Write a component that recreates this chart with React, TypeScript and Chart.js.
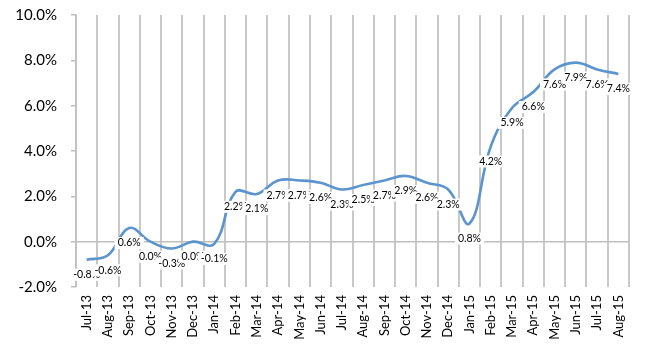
import React, { useEffect, useRef } from 'react';
import { Chart, registerables } from 'chart.js';

Chart.register(...registerables);

const categories = [
  'Jul-13', 'Aug-13', 'Sep-13', 'Oct-13', 'Nov-13', 'Dec-13',
  'Jan-14', 'Feb-14', 'Mar-14', 'Apr-14', 'May-14', 'Jun-14',
  'Jul-14', 'Aug-14', 'Sep-14', 'Oct-14', 'Nov-14', 'Dec-14',
  'Jan-15', 'Feb-15', 'Mar-15', 'Apr-15', 'May-15', 'Jun-15',
  'Jul-15', 'Aug-15',
];

const values = [
  -0.8, -0.6, 0.6, 0.0, -0.3, 0.0,
  -0.1, 2.2, 2.1, 2.7, 2.7, 2.6,
  2.3, 2.5, 2.7, 2.9, 2.6, 2.3,
  0.8, 4.2, 5.9, 6.6, 7.6, 7.9,
  7.6, 7.4,
];

const yMin = -2;
const yMax = 10;
const yStep = 2;

const fmt = (v: number) => `${v.toFixed(1)}%`;

const labelPlugin = {
  id: 'valueLabels',
  afterDatasetsDraw(chart: any) {
    const ctx = chart.ctx;
    const meta = chart.getDatasetMeta(0);
    ctx.save();
    ctx.font = '10.5px Lato';
    ctx.textAlign = 'center';
    ctx.textBaseline = 'middle';
    meta.data.forEach((pt: any, i: number) => {
      const text = fmt(values[i]);
      const w = ctx.measureText(text).width + 6;
      const h = 12;
      const x = pt.x;
      const y = pt.y + 15;
      ctx.fillStyle = '#ffffff';
      ctx.fillRect(x - w / 2, y - h / 2, w, h);
      ctx.fillStyle = '#000000';
      ctx.fillText(text, x, y);
    });
    ctx.restore();
  },
};

export default function App() {
  const ref = useRef<HTMLCanvasElement | null>(null);

  useEffect(() => {
    if (!ref.current) return;
    const chart = new Chart(ref.current, {
      type: 'line',
      data: {
        labels: categories,
        datasets: [
          {
            data: values,
            borderColor: '#5B94CE',
            borderWidth: 2.6,
            pointRadius: 0,
            tension: 0.4,
            fill: false,
          },
        ],
      },
      options: {
        animation: false,
        responsive: true,
        maintainAspectRatio: false,
        layout: { padding: { top: 6, right: 21, left: 0, bottom: 0 } },
        plugins: {
          legend: { display: false },
          tooltip: { enabled: false },
        },
        scales: {
          x: {
            offset: true,
            grid: {
              offset: true,
              color: '#c8c8c8',
              lineWidth: 2,
              drawTicks: false,
            },
            border: { display: false },
            ticks: {
              autoSkip: false,
              minRotation: 90,
              maxRotation: 90,
              padding: 8,
              color: '#000',
              font: { family: 'Lato', size: 13 },
            },
            afterFit(scale: any) {
              scale.height = 63;
            },
          },
          y: {
            min: yMin,
            max: yMax,
            ticks: {
              stepSize: yStep,
              padding: 14,
              color: '#000',
              font: { family: 'Lato', size: 15 },
              callback: (v: any) => fmt(Number(v)),
            },
            grid: {
              color: (c: any) => (c.tick && c.tick.value === 0 ? '#bfbfbf' : 'rgba(0,0,0,0)'),
              lineWidth: 1.5,
              tickColor: '#bfbfbf',
              tickLength: 5,
            },
            border: { display: true, color: '#bfbfbf', width: 1.5 },
            afterFit(scale: any) {
              scale.width = 76;
            },
          },
        },
      },
      plugins: [labelPlugin],
    });
    return () => chart.destroy();
  }, []);

  return (
    <div style={{ position: 'absolute', left: 0, top: -8, width: 650, height: 358, background: '#fff' }}>
      <canvas ref={ref} />
    </div>
  );
}
